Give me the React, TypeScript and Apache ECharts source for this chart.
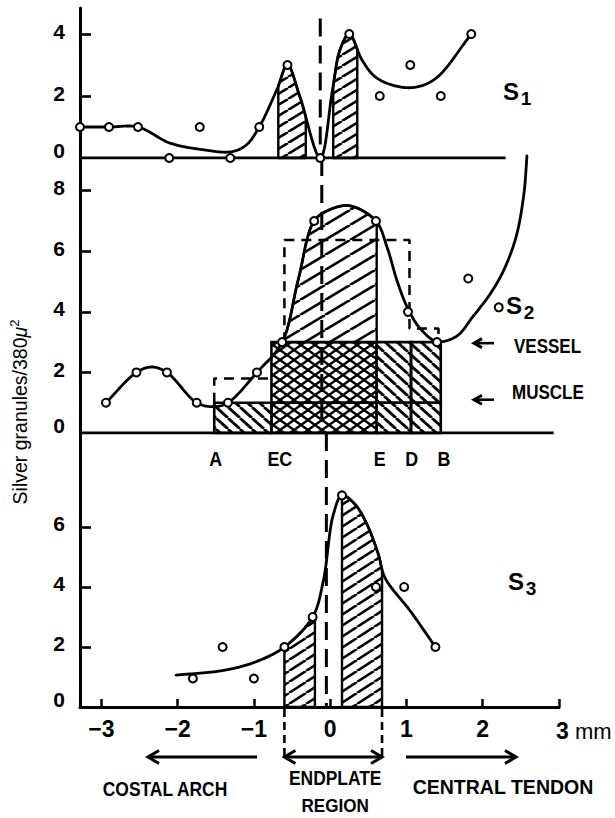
import { useEffect, useRef } from 'react';
import * as echarts from 'echarts';

// ---------------- data (mm along the diaphragm, granules / 380 µ²) ----------------
const X_MIN = -3.28;
const X_MAX = 3;
const X_TICKS = [-3, -2, -1, 0, 1, 2, 3];
const X_LABELS = [-3, -2, -1, 0, 1, 2];

const S1_TICKS = [0, 2, 4];
const S2_TICKS = [0, 2, 4, 6, 8];
const S3_TICKS = [0, 2, 4, 6];

// S1
const S1_POINTS = [
  [-3.28, 1], [-2.9, 1], [-2.52, 1], [-2.11, 0], [-1.71, 1], [-1.31, 0], [-0.93, 1],
  [-0.56, 3], [-0.13, 0], [0.25, 4], [0.65, 2], [1.05, 3], [1.45, 2], [1.85, 4],
];
const S1_CURVE = [
  [-3.28, 1], [-2.9, 1], [-2.52, 1], [-2.1, 0.48], [-1.7, 0.28], [-1.3, 0.2], [-1.1, 0.42],
  [-0.93, 1], [-0.7, 2.2], [-0.56, 3], [-0.4, 2.0], [-0.13, 0], [0.03, 2.2], [0.13, 3.5],
  [0.25, 4], [0.42, 3.15], [0.6, 2.6], [0.9, 2.3], [1.15, 2.3], [1.4, 2.6], [1.85, 4],
];
const S1_HATCH = [[-0.68, -0.32, 0], [0.04, 0.355, 0]];
const S1_BASELINE = [[X_MIN, 0], [2.3, 0]];

// S2
const S2_POINTS = [
  [-2.94, 1], [-2.54, 2], [-2.14, 2], [-1.75, 1], [-1.34, 1], [-0.96, 2], [-0.63, 3],
  [-0.21, 7], [0.6, 7], [1.02, 4], [1.4, 3], [1.81, 5.1], [2.21, 4.15], [2.58, 9.15],
];
const S2_CURVE = [
  [-2.94, 1], [-2.54, 2], [-2.34, 2.18], [-2.14, 2], [-1.75, 1], [-1.52, 0.87], [-1.34, 1],
  [-0.96, 2], [-0.63, 3], [-0.42, 5.05], [-0.21, 7], [0.0, 7.38], [0.26, 7.5], [0.6, 7],
  [0.75, 6.1], [0.88, 5.0], [1.02, 4.1], [1.18, 3.45], [1.4, 3.02], [1.66, 3.2], [1.87, 3.84],
  [2.1, 4.6], [2.28, 5.4], [2.44, 6.5], [2.54, 7.9], [2.58, 9.15],
];
const S2_HATCH = [[-0.63, 0.61, 3]];
const S2_BASELINE = [[X_MIN, 0], [2.93, 0]];
// muscle / vessel blocks: [x0, x1, y0, y1, patternIndex]  (0 = "\\\", 1 = cross-hatch)
const S2_CELLS = [
  [-1.52, -0.77, 0, 1, 0],
  [-0.77, 0.61, 0, 1, 1],
  [0.61, 1.06, 0, 1, 0],
  [1.06, 1.45, 0, 1, 0],
  [-0.77, 0.61, 1, 3, 1],
  [0.61, 1.06, 1, 3, 0],
  [1.06, 1.45, 1, 3, 0],
];
const S2_DASHED_A = [[-1.52, 1], [-1.52, 1.8], [-0.77, 1.8]];
const S2_DASHED_B = [[-0.6, 3], [-0.6, 6.37], [1.04, 6.37], [1.04, 3.45], [1.42, 3.45], [1.42, 3]];
const S2_LETTERS = [
  { t: 'A', x: -1.5 }, { t: 'EC', x: -0.66 }, { t: 'E', x: 0.65 }, { t: 'D', x: 1.07 }, { t: 'B', x: 1.49 },
];

// S3
const S3_POINTS = [
  [-1.8, 0.95], [-1.41, 2], [-1.0, 0.95], [-0.6, 2], [-0.23, 3], [0.155, 7.05],
  [0.6, 4], [0.97, 4], [1.38, 2],
];
const S3_CURVE = [
  [-2.02, 1.06], [-1.4, 1.22], [-0.98, 1.5], [-0.6, 2], [-0.23, 3], [-0.09, 4.2], [0.04, 6.4],
  [0.155, 7.05], [0.32, 6.77], [0.48, 6.1], [0.63, 5.1], [0.72, 4.3], [1.05, 3.2], [1.38, 2],
];
const S3_HATCH = [[-0.6, -0.2, 0], [0.155, 0.68, 0]];

const CENTER_X = [-0.13, -0.11, -0.05];
const CENTER_TOP = [4.5, 9.08, 9.13];
const ENDPLATE = [-0.6, 0.68];

// ---------------- layout ----------------
const GRID_LEFT = 80;
const GRID_W = 479;
const PANELS = [
  { top: 8, bottom: 158, max: 4.84 },
  { top: 158, bottom: 433, max: 9.08 },
  { top: 433, bottom: 707, max: 9.13 },
];
const FONT = '"Liberation Sans", Arial, Helvetica, sans-serif';

const xPx = (v: number) => GRID_LEFT + ((v - X_MIN) / (X_MAX - X_MIN)) * GRID_W;
const yPx = (k: number, v: number) =>
  PANELS[k].bottom - (v / PANELS[k].max) * (PANELS[k].bottom - PANELS[k].top);

function tile(w: number, h: number, kind: string, sw: number) {
  const segs: number[][] = [];
  if (kind === '/' || kind === 'x') segs.push([0, h, w, 0], [-w, h, 0, 0], [w, h, 2 * w, 0]);
  if (kind === '\\' || kind === 'x') segs.push([0, 0, w, h], [-w, 0, 0, h], [w, 0, 2 * w, h]);
  const body = segs
    .map(([a, b, c, d]) => `<line x1="${a}" y1="${b}" x2="${c}" y2="${d}"/>`)
    .join('');
  const svg = `<svg xmlns="http://www.w3.org/2000/svg" width="${w}" height="${h}" viewBox="0 0 ${w} ${h}"><g stroke="#000" stroke-width="${sw}">${body}</g></svg>`;
  return {
    image: 'data:image/svg+xml;charset=utf-8,' + encodeURIComponent(svg),
    repeat: 'repeat',
    imageWidth: w,
    imageHeight: h,
  };
}

const PAT_S1 = tile(18, 11, '/', 2.6);
const PAT_S2 = tile(25, 15, '/', 2.6);
const PAT_S3 = tile(17, 11, '/', 2.6);
const PAT_CELLS = [tile(12, 11, '\\', 2.8), tile(14, 10, 'x', 2.4)];

function catmullRom(pts: number[][], steps = 18): number[][] {
  const out: number[][] = [];
  const n = pts.length;
  const get = (i: number) => {
    if (i < 0) return [2 * pts[0][0] - pts[1][0], 2 * pts[0][1] - pts[1][1]];
    if (i >= n) return [2 * pts[n - 1][0] - pts[n - 2][0], 2 * pts[n - 1][1] - pts[n - 2][1]];
    return pts[i];
  };
  const dist = (a: number[], b: number[]) => Math.max(Math.pow(Math.hypot(b[0] - a[0], b[1] - a[1]), 0.5), 1e-4);
  for (let i = 0; i < n - 1; i++) {
    const p0 = get(i - 1), p1 = get(i), p2 = get(i + 1), p3 = get(i + 2);
    const t0 = 0, t1 = t0 + dist(p0, p1), t2 = t1 + dist(p1, p2), t3 = t2 + dist(p2, p3);
    for (let s = 0; s < steps; s++) {
      const t = t1 + ((t2 - t1) * s) / steps;
      const lerp = (a: number[], b: number[], ta: number, tb: number) => [
        ((tb - t) / (tb - ta)) * a[0] + ((t - ta) / (tb - ta)) * b[0],
        ((tb - t) / (tb - ta)) * a[1] + ((t - ta) / (tb - ta)) * b[1],
      ];
      const A1 = lerp(p0, p1, t0, t1), A2 = lerp(p1, p2, t1, t2), A3 = lerp(p2, p3, t2, t3);
      const B1 = lerp(A1, A2, t0, t2), B2 = lerp(A2, A3, t1, t3);
      out.push(lerp(B1, B2, t1, t2));
    }
  }
  out.push(pts[n - 1]);
  return out;
}

function yAt(s: number[][], x: number) {
  for (let i = 0; i < s.length - 1; i++) {
    const a = s[i], b = s[i + 1];
    if ((a[0] - x) * (b[0] - x) <= 0 && a[0] !== b[0]) {
      return a[1] + ((x - a[0]) / (b[0] - a[0])) * (b[1] - a[1]);
    }
  }
  return s[0][1];
}

function panelSeries(k: number, points: number[][], curve: number[][], hatch: number[][], pat: any) {
  const sample = (api: any) => catmullRom(curve.map((c) => api.coord(c)));
  return [
    {
      type: 'custom',
      name: `hatch${k}`,
      coordinateSystem: 'cartesian2d',
      xAxisIndex: k,
      yAxisIndex: k,
      z: 2,
      silent: true,
      data: hatch,
      renderItem: (_p: any, api: any) => {
        const x1 = api.value(0), x2 = api.value(1), base = api.value(2);
        const s = sample(api);
        const a = api.coord([x1, base]);
        const b = api.coord([x2, base]);
        const poly: number[][] = [[a[0], a[1]], [a[0], yAt(s, a[0])]];
        s.forEach((p) => { if (p[0] > a[0] && p[0] < b[0]) poly.push(p); });
        poly.push([b[0], yAt(s, b[0])], [b[0], b[1]]);
        return {
          type: 'polygon',
          shape: { points: poly },
          style: { fill: pat, stroke: '#000', lineWidth: 2.4, lineJoin: 'round' },
        };
      },
    },
    {
      type: 'custom',
      name: `curve${k}`,
      coordinateSystem: 'cartesian2d',
      xAxisIndex: k,
      yAxisIndex: k,
      z: 3,
      silent: true,
      data: curve,
      renderItem: (p: any, api: any) => {
        if (p.dataIndex !== 0) return null;
        return {
          type: 'polyline',
          shape: { points: sample(api) },
          style: { fill: null, stroke: '#000', lineWidth: 2.8, lineJoin: 'round', lineCap: 'round' },
        };
      },
    },
    {
      type: 'line',
      name: `center${k}`,
      xAxisIndex: k,
      yAxisIndex: k,
      z: 4,
      silent: true,
      symbol: 'none',
      data: [[CENTER_X[k], CENTER_TOP[k]], [CENTER_X[k], 0]],
      lineStyle: { color: '#000', width: 3, type: [18, 9] },
    },
    {
      type: 'scatter',
      name: `points${k}`,
      xAxisIndex: k,
      yAxisIndex: k,
      z: 6,
      silent: true,
      symbol: 'circle',
      symbolSize: 8,
      data: points,
      itemStyle: { color: '#fff', borderColor: '#000', borderWidth: 2, opacity: 1 },
    },
  ];
}

function buildOption() {
  const yTicks = [S1_TICKS, S2_TICKS, S3_TICKS];
  const fmtX = (v: number) => (v < 0 ? '\u2212' + Math.abs(v) : String(v));

  const series: any[] = [
    ...panelSeries(0, S1_POINTS, S1_CURVE, S1_HATCH, PAT_S1),
    ...panelSeries(1, S2_POINTS, S2_CURVE, S2_HATCH, PAT_S2),
    ...panelSeries(2, S3_POINTS, S3_CURVE, S3_HATCH, PAT_S3),
    {
      type: 'line', name: 'base1', xAxisIndex: 0, yAxisIndex: 0, symbol: 'none', silent: true, z: 3,
      data: S1_BASELINE, lineStyle: { color: '#000', width: 3 },
    },
    {
      type: 'line', name: 'base2', xAxisIndex: 1, yAxisIndex: 1, symbol: 'none', silent: true, z: 3,
      data: S2_BASELINE, lineStyle: { color: '#000', width: 3 },
    },
    {
      type: 'custom',
      name: 'cells',
      coordinateSystem: 'cartesian2d',
      xAxisIndex: 1,
      yAxisIndex: 1,
      z: 2,
      silent: true,
      data: S2_CELLS,
      renderItem: (_p: any, api: any) => {
        const tl = api.coord([api.value(0), api.value(3)]);
        const br = api.coord([api.value(1), api.value(2)]);
        return {
          type: 'rect',
          shape: { x: tl[0], y: tl[1], width: br[0] - tl[0], height: br[1] - tl[1] },
          style: { fill: PAT_CELLS[api.value(4)], stroke: '#000', lineWidth: 2.6 },
        };
      },
    },
    {
      type: 'line', name: 'dashA', xAxisIndex: 1, yAxisIndex: 1, symbol: 'none', silent: true, z: 4,
      data: S2_DASHED_A, lineStyle: { color: '#000', width: 2.5, type: [10, 7] },
    },
    {
      type: 'line', name: 'dashB', xAxisIndex: 1, yAxisIndex: 1, symbol: 'none', silent: true, z: 4,
      data: S2_DASHED_B, lineStyle: { color: '#000', width: 2.5, type: [10, 7] },
    },
  ];

  // ---------- annotations ----------
  const g: any[] = [];
  const txt = (x: number, y: number, t: string, fs: number, sx = 1, align = 'center', fw = 'bold') =>
    g.push({
      type: 'text', x, y, scaleX: sx, silent: true, z: 20,
      style: {
        text: t, fill: '#000', fontSize: fs, fontWeight: fw, fontFamily: FONT,
        textAlign: align, align, textVerticalAlign: 'middle', verticalAlign: 'middle',
      },
    });
  const seg = (x1: number, y1: number, x2: number, y2: number, w = 3, dash: any = null) =>
    g.push({
      type: 'line', silent: true, z: 20,
      shape: { x1, y1, x2, y2 },
      style: { stroke: '#000', lineWidth: w, lineDash: dash },
    });
  const head = (x: number, y: number, dir: number, len = 11, hh = 6.5) =>
    g.push({
      type: 'polyline', silent: true, z: 20,
      shape: { points: [[x + dir * len, y - hh], [x, y], [x + dir * len, y + hh]] },
      style: { stroke: '#000', lineWidth: 3, fill: null, lineJoin: 'miter' },
    });

  // y-axis title
  g.push({
    type: 'text', x: 20, y: 412, rotation: Math.PI / 2, silent: true, z: 20,
    style: {
      text: '{t|Silver granules/380}{m|\u03bc}{s|2}',
      fill: '#000', fontFamily: FONT, textAlign: 'center', align: 'center',
      textVerticalAlign: 'middle', verticalAlign: 'middle',
      rich: {
        t: { fontSize: 19.5, fontFamily: FONT, lineHeight: 24 },
        m: { fontSize: 19.5, fontFamily: FONT, fontStyle: 'italic', lineHeight: 24 },
        s: { fontSize: 13, fontFamily: FONT, verticalAlign: 'top', lineHeight: 24 },
      },
    },
  });

  // "3 mm" label
  g.push({
    type: 'text', x: 556, y: 731, silent: true, z: 20,
    style: {
      text: '{a|3}{b| mm}', fill: '#000', textAlign: 'left', align: 'left',
      textVerticalAlign: 'middle', verticalAlign: 'middle',
      rich: {
        a: { fontSize: 23, fontWeight: 'bold', fontFamily: FONT },
        b: { fontSize: 22, fontFamily: FONT },
      },
    },
  });

  // panel names
  const sLabels = [
    { x: 511, y: 91, sub: '1' },
    { x: 514, y: 305, sub: '2' },
    { x: 516, y: 581, sub: '3' },
  ];
  sLabels.forEach((s) => {
    txt(s.x, s.y, 'S', 24, 1);
    txt(s.x + 15, s.y + 7, s.sub, 19, 1);
  });

  // letters under S2
  S2_LETTERS.forEach((l) => txt(xPx(l.x), 458, l.t, 21, 0.85));

  // vessel / muscle
  const vy = yPx(1, 3) + 1;
  const my = yPx(1, 1) - 3;
  seg(474, vy, 494, vy, 2.6);
  head(474, vy, 1, 8, 4.5);
  txt(514, vy + 3, 'VESSEL', 21, 0.81, 'left');
  seg(474, my, 494, my, 2.6);
  head(474, my, 1, 8, 4.5);
  txt(512, my - 8, 'MUSCLE', 21, 0.81, 'left');

  // endplate boundaries below the axis
  const e0 = xPx(ENDPLATE[0]);
  const e1 = xPx(ENDPLATE[1]);
  seg(e0, 709, e0, 760, 2.6, [8, 5]);
  seg(e1, 709, e1, 760, 2.6, [8, 5]);

  // region arrows
  const ay = 757;
  seg(148, ay, 257, ay, 3);
  head(148, ay, 1);
  seg(e0, ay, e1, ay, 3);
  head(e0, ay, 1);
  head(e1, ay, -1);
  seg(406, ay, 516, ay, 3);
  head(516, ay, -1);

  txt(165, 789, 'COSTAL ARCH', 21, 0.83);
  txt((e0 + e1) / 2 + 2, 778, 'ENDPLATE', 20, 0.87);
  txt((e0 + e1) / 2 + 2, 806, 'REGION', 19, 0.9);
  txt(503, 787, 'CENTRAL TENDON', 21, 0.93);

  return {
    animation: false,
    backgroundColor: '#fff',
    grid: PANELS.map((p) => ({
      left: GRID_LEFT, top: p.top, width: GRID_W, height: p.bottom - p.top,
      containLabel: false, outerBoundsMode: 'none',
    })),
    xAxis: PANELS.map((_p, k) => ({
      type: 'value', gridIndex: k, min: X_MIN, max: X_MAX, show: k === 2,
      axisLine: { show: true, onZero: false, lineStyle: { color: '#000', width: 3 } },
      axisTick: { show: true, inside: true, length: 8, customValues: X_TICKS, lineStyle: { color: '#000', width: 2.5 } },
      axisLabel: {
        show: true, customValues: X_LABELS, formatter: fmtX, margin: 10, color: '#000',
        fontSize: 23, fontWeight: 'bold', fontFamily: FONT,
      },
      splitLine: { show: false },
    })),
    yAxis: PANELS.map((p, k) => ({
      type: 'value', gridIndex: k, min: 0, max: p.max, position: 'left',
      axisLine: { show: true, onZero: false, lineStyle: { color: '#000', width: 3 } },
      axisTick: {
        show: true, inside: true, length: 11,
        customValues: yTicks[k].filter((v) => v !== 0),
        lineStyle: { color: '#000', width: 2.6 },
      },
      axisLabel: {
        show: true, customValues: yTicks[k], margin: 15, color: '#000',
        formatter: (v: number) => (v === 0 ? `{z|0}` : `{n|${v}}`),
        rich: {
          n: { fontSize: 21, fontWeight: 'bold', fontFamily: FONT, color: '#000', padding: [0, 0, 6, 0] },
          z: { fontSize: 21, fontWeight: 'bold', fontFamily: FONT, color: '#000', padding: [0, 0, 16, 0] },
        },
      },
      splitLine: { show: false },
    })),
    series,
    graphic: g,
  };
}

export default function App() {
  const ref = useRef<HTMLDivElement>(null);
  useEffect(() => {
    const chart = echarts.init(ref.current!, null, { renderer: 'svg' });
    chart.setOption(buildOption() as any);
    return () => chart.dispose();
  }, []);
  return (
    <div
      ref={ref}
      style={{ position: 'absolute', left: 0, top: 0, width: 615, height: 818, background: '#fff' }}
    />
  );
}
